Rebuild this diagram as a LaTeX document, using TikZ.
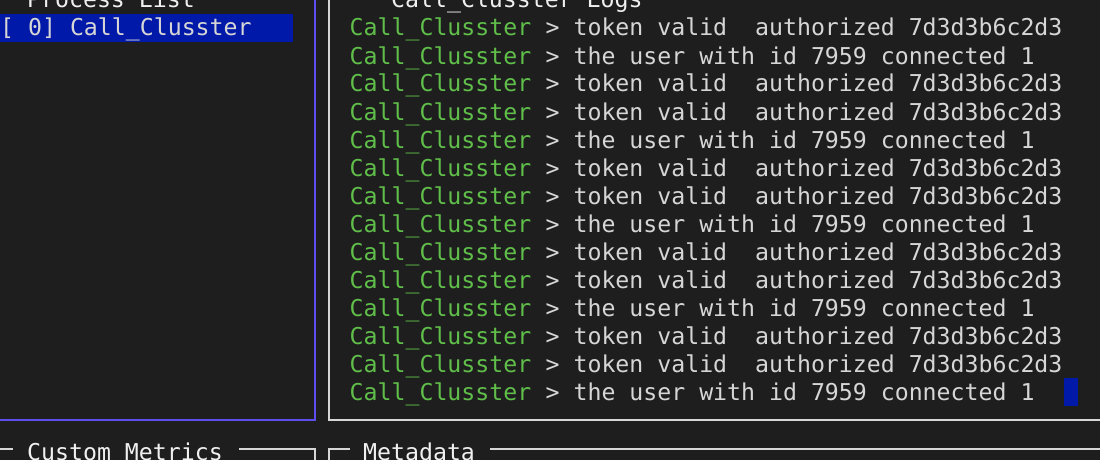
\documentclass[tikz,border=0pt]{standalone}
\usepackage{fontspec}
\newfontfamily\termfont{DejaVu Sans Mono}
\definecolor{bgc}{RGB}{30,30,30}
\definecolor{grn}{RGB}{96,190,74}
\definecolor{txt}{RGB}{214,214,214}
\definecolor{ttl}{RGB}{240,240,240}
\definecolor{brd}{RGB}{215,215,215}
\definecolor{pur}{RGB}{94,78,240}
\definecolor{sel}{RGB}{0,25,168}
\tikzset{
  termtext/.style={inner sep=0pt, anchor=base west, font=\termfont\fontsize{23.2}{28}\selectfont},
  logname/.style={termtext, text=grn},
  logmsg/.style={termtext, text=txt},
  titletext/.style={termtext, text=ttl},
  grayline/.style={draw=brd, line width=2pt},
  purline/.style={draw=pur, line width=2pt},
}
\newcommand\tokmsg{token valid\ \ authorized 7d3d3b6c2d3}
\newcommand\usrmsg{the user with id 7959 connected 1}
\begin{document}
\begin{tikzpicture}[x=1pt,y=-1pt]
\fill[bgc] (0,0) rectangle (1100,460);
\useasboundingbox (0,0) rectangle (1100,460);
% top-left panel border (Process List)
\draw[purline] (314.5,-5) -- (314.5,420) -- (-5,420);
% top-right panel border (Logs)
\draw[grayline] (328.5,-5) -- (328.5,420) -- (1105,420);
% bottom-left panel (Custom Metrics)
\draw[grayline] (-5,449) -- (13,449);
\draw[grayline] (239,449) -- (314.5,449) -- (314.5,465);
% bottom-right panel (Metadata)
\draw[grayline] (328.5,465) -- (328.5,449) -- (350,449);
\draw[grayline] (490,449) -- (1105,449);
% titles
\node[titletext] (ptitle) at (27,7.5) {Process List};
\node[titletext] (ltitle) at (391,8) {Call\_Clusster Logs};
\node[titletext] (mtitle) at (27,460) {Custom Metrics};
\node[titletext] (dtitle) at (363,460) {Metadata};
% selected process
\fill[sel] (0,14) rectangle (293,42);
\node[termtext, text=txt] (proc) at (0,36) {[ 0] Call\_Clusster};
% log lines
\foreach \k/\m in {0/\tokmsg, 1/\usrmsg, 2/\tokmsg, 3/\tokmsg, 4/\usrmsg,
                   5/\tokmsg, 6/\tokmsg, 7/\usrmsg, 8/\tokmsg, 9/\tokmsg,
                   10/\usrmsg, 11/\tokmsg, 12/\tokmsg, 13/\usrmsg}{
  \node[logname] (n\k) at (349.5,{36+28*\k}) {Call\_Clusster};
  \node[logmsg] (m\k) at (n\k.base east) {\ > \m};
}
% cursor
\fill[sel] (1064,378) rectangle (1078,406);
\end{tikzpicture}
\end{document}
